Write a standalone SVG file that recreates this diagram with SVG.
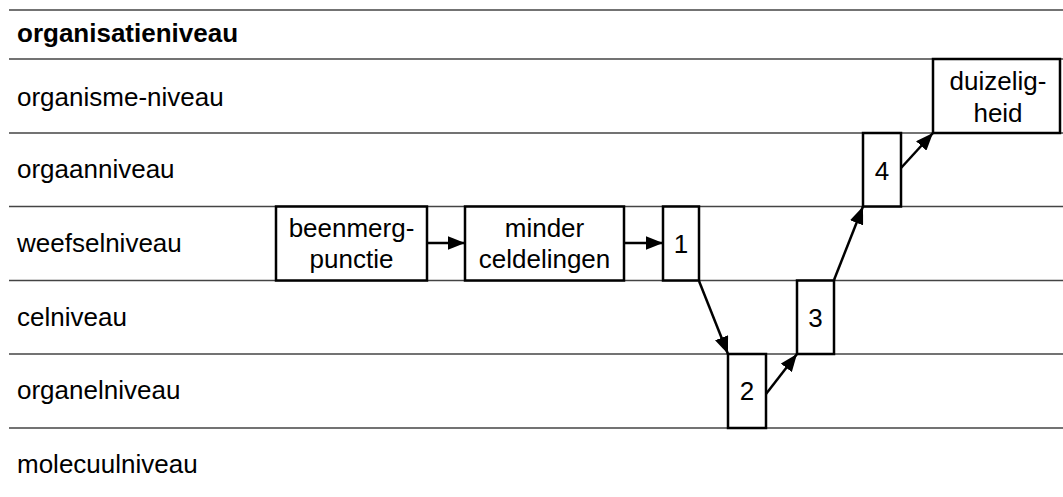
<svg xmlns="http://www.w3.org/2000/svg" width="1063" height="497" viewBox="0 0 1063 497">
<style>
text{font-family:"Liberation Sans",Arial,sans-serif;font-size:26px;fill:#000}
.lv{stroke:#444;stroke-width:1.5}
.bx{fill:#fff;stroke:#000;stroke-width:2.5}
.c{text-anchor:middle}
.ar{stroke:#000;stroke-width:2.5;fill:none;marker-end:url(#ah)}
</style>
<defs>
<marker id="ah" viewBox="0 0 10 8" refX="10" refY="4" markerWidth="7" markerHeight="5.6" orient="auto" markerUnits="strokeWidth">
<path d="M0,0 L10,4 L0,8 z" fill="#000"/>
</marker>
</defs>
<g id="levels">
<line class="lv" x1="9" y1="10" x2="1063" y2="10"/>
<line class="lv" x1="9" y1="59" x2="1063" y2="59"/>
<line class="lv" x1="9" y1="133" x2="1063" y2="133"/>
<line class="lv" x1="9" y1="206.5" x2="1063" y2="206.5"/>
<line class="lv" x1="9" y1="280.5" x2="1063" y2="280.5"/>
<line class="lv" x1="9" y1="354" x2="1063" y2="354"/>
<line class="lv" x1="9" y1="428" x2="1063" y2="428"/>
<text x="17" y="42" font-weight="bold">organisatieniveau</text>
<text x="17" y="106">organisme-niveau</text>
<text x="17" y="178">orgaanniveau</text>
<text x="17" y="252">weefselniveau</text>
<text x="17" y="326">celniveau</text>
<text x="17" y="399">organelniveau</text>
<text x="17" y="473">molecuulniveau</text>
</g>
<g id="connectors">
<line class="ar" x1="427" y1="243" x2="465" y2="243"/>
<line class="ar" x1="624" y1="243" x2="663" y2="243"/>
<line class="ar" x1="699" y1="281" x2="728" y2="354"/>
<line class="ar" x1="766" y1="394" x2="797" y2="354"/>
<line class="ar" x1="834" y1="280" x2="863" y2="206.5"/>
<line class="ar" x1="901" y1="168" x2="933" y2="133"/>
</g>
<g id="beenmergpunctie">
<rect class="bx" x="276" y="206.5" width="151" height="74"/>
<text class="c" x="351.5" y="237">beenmerg-</text>
<text class="c" x="351.5" y="268">punctie</text>
</g>
<g id="minder-celdelingen">
<rect class="bx" x="465" y="206.5" width="159" height="74"/>
<text class="c" x="544.5" y="237">minder</text>
<text class="c" x="544.5" y="268">celdelingen</text>
</g>
<g id="n1">
<rect class="bx" x="663" y="206.5" width="36" height="74"/>
<text class="c" x="681" y="253">1</text>
</g>
<g id="n2">
<rect class="bx" x="728" y="354" width="38" height="74"/>
<text class="c" x="747" y="400">2</text>
</g>
<g id="n3">
<rect class="bx" x="797" y="280.5" width="37" height="73.5"/>
<text class="c" x="815.5" y="327">3</text>
</g>
<g id="n4">
<rect class="bx" x="863" y="133" width="38" height="73.5"/>
<text class="c" x="882" y="180">4</text>
</g>
<g id="duizeligheid">
<rect class="bx" x="933" y="59" width="127" height="74"/>
<text class="c" x="998" y="90">duizelig-</text>
<text class="c" x="998" y="122">heid</text>
</g>
</svg>
